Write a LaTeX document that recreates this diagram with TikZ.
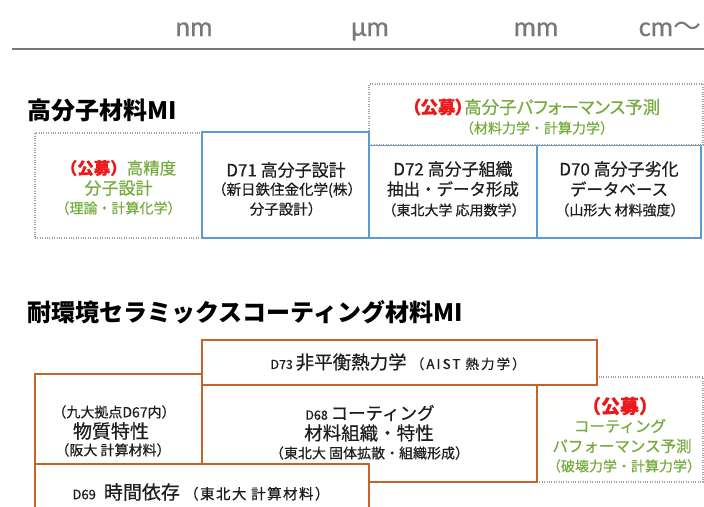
\documentclass[tikz,border=0pt]{standalone}
\usepackage{fontspec}
\setmainfont{Noto Sans CJK JP}
\newfontfamily\boxfont{Noto Sans CJK JP}[FakeBold=0.5]
\newfontfamily\boxfontp{Noto Sans CJK JP}[FakeBold=0.5,RawFeature=+palt]
\newfontfamily\unitfont{Carlito}[FakeBold=0.5]
\definecolor{bxblue}{RGB}{91,155,213}
\definecolor{bxorange}{RGB}{196,100,40}
\definecolor{txgreen}{RGB}{118,172,62}
\definecolor{txred}{RGB}{235,25,25}
\definecolor{txdark}{RGB}{30,30,30}
\definecolor{dotgray}{RGB}{160,160,160}
\definecolor{unitgray}{RGB}{120,120,120}
\newcommand{\fsz}[1]{\fontsize{#1}{#1}\selectfont}
\newcommand{\koubo}[1]{{\color{txred}\bfseries\fsz{#1}（公募）}}
\tikzset{
  boxbase/.style={rectangle, inner sep=0pt, fill=white},
  bluebox/.style={boxbase, draw=bxblue, line width=1.6pt},
  orangebox/.style={boxbase, draw=bxorange, line width=1.6pt},
  dotbox/.style={boxbase, draw=dotgray, line width=1.1pt, dash pattern=on 1pt off 1.4pt},
  txt/.style={inner sep=0pt, text=txdark, font=\boxfont},
  gtxt/.style={inner sep=0pt, text=txgreen, font=\boxfont},
  unit/.style={inner sep=0pt, anchor=base, text=unitgray, font=\unitfont\fsz{28}},
  ttl/.style={inner sep=0pt, anchor=west, text=black, font=\bfseries\fsz{24}},
}
\begin{document}
\begin{tikzpicture}[x=1pt,y=-1pt]
\useasboundingbox (0,0) rectangle (704,506);
\clip (0,0) rectangle (704,506);
\fill[white] (0,0) rectangle (704,506);

% scale header
\node[unit] (nm) at (194,36) {nm};
\node[unit] (um) at (370,36) {μm};
\node[unit] (mm) at (536,36) {mm};
\node[unit] (cm) at (670,36) {cm{\fontspec{Noto Sans CJK JP}～}};
\coordinate (axl) at (12,49);
\coordinate (axr) at (704,49);
\draw[unitgray, line width=1.6pt] (axl) -- (axr);

% ---------- polymer section ----------
\node[ttl] (title1) at (27,110) {高分子材料MI};

\node[dotbox, minimum width=167pt, minimum height=105pt] (p1) at (118.5,185.5) {};
\node[bluebox, minimum width=168pt, minimum height=93pt] (d72) at (453,191.5) {};
\node[bluebox, minimum width=164pt, minimum height=93pt] (d70) at (619,191.5) {};
\node[dotbox, minimum width=334pt, minimum height=61pt] (ptop) at (536,114.5) {};
\node[bluebox, minimum width=167pt, minimum height=106pt] (d71) at (285.5,185) {};

\node[gtxt] (p1a) at (118.5,168) {\koubo{16.5}\fsz{16.5}高精度};
\node[gtxt] (p1b) at (118.5,188) {\fsz{17}分子設計};
\node[gtxt] (p1c) at (118.5,208) {\fsz{14}（理論・計算化学）};

\node[txt] (d71a) at (286,170) {\fsz{17}D71 高分子設計};
\node[txt] (d71b) at (287,190) {\fsz{14.5}（新日鉄住金化学(株）};
\node[txt] (d71c) at (286,209) {\fsz{14.5}分子設計）};

\node[gtxt, font=\boxfontp] (pta) at (536,107) {\koubo{17.5}\fsz{17.5}高分子パフォーマンス予測};
\node[gtxt] (ptb) at (537,128) {\fsz{14}（材料力学・計算力学）};

\node[txt] (d72a) at (453,169) {\fsz{17}D72 高分子組織};
\node[txt] (d72b) at (453,189) {\fsz{16.5}抽出・データ形成};
\node[txt] (d72c) at (454,210) {\fsz{14}（東北大学 応用数学）};

\node[txt] (d70a) at (619,169) {\fsz{17}D70 高分子劣化};
\node[txt] (d70b) at (619,189) {\fsz{16.5}データベース};
\node[txt] (d70c) at (620,210) {\fsz{14}（山形大 材料強度）};

% ---------- ceramic section ----------
\node[ttl] (title2) at (27,312) {耐環境セラミックスコーティング材料MI};

\node[dotbox, minimum width=166pt, minimum height=105pt] (coat) at (620,429.5) {};
\node[orangebox, minimum width=335pt, minimum height=97pt] (d68) at (369.5,433.5) {};
\node[orangebox, minimum width=395pt, minimum height=45pt] (d73) at (399.5,362.5) {};
\node[orangebox, minimum width=167pt, minimum height=90pt] (d67) at (118.5,419) {};
\node[orangebox, minimum width=334pt, minimum height=66pt] (d69) at (202,497) {};

\node[txt] (d73t) at (398,362) {\fsz{12.5}D73 \fsz{18.5}非平衡熱力学 {\fsz{13.5}\addfontfeature{LetterSpace=15}（AIST 熱力学）}};

\node[txt] (d67a) at (114,412) {\fsz{14}（九大拠点D67内）};
\node[txt] (d67b) at (111,431) {\fsz{19}物質特性};
\node[txt] (d67c) at (113,450) {\fsz{14}（阪大 計算材料）};

\node[txt] (d68a) at (370,413) {\fsz{12.5}D68 \fsz{17.5}コーティング};
\node[txt] (d68b) at (369,433) {\fsz{18.5}材料組織・特性};
\node[txt] (d68c) at (369.5,453) {\fsz{14}（東北大 固体拡散・組織形成）};

\node[txt] (d69t) at (201,492) {\fsz{13}D69\hspace{8pt}\fsz{19}時間依存 {\fsz{14.5}\addfontfeature{LetterSpace=10}（東北大 計算材料）}};

\node[inner sep=0pt, font=\boxfont] (coa) at (620,406) {\koubo{19}};
\node[gtxt] (cob) at (620,426) {\fsz{15.5}コーティング};
\node[gtxt] (coc) at (622,446) {\fsz{15.5}パフォーマンス予測};
\node[gtxt] (cod) at (624,466) {\fsz{14}（破壊力学・計算力学）};
\end{tikzpicture}
\end{document}
